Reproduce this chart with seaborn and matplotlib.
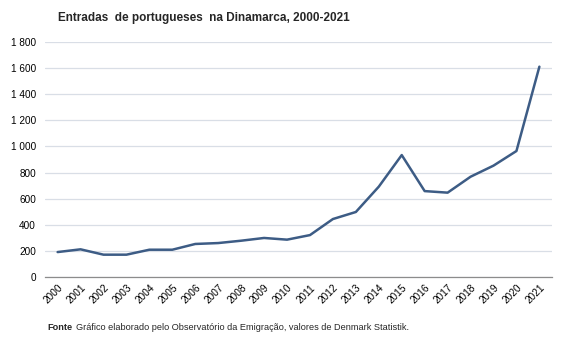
import matplotlib
matplotlib.use("Agg")
import matplotlib.pyplot as plt
import seaborn as sns
import pandas as pd
from matplotlib.ticker import FuncFormatter

years = [str(y) for y in range(2000, 2022)]
entradas = [191, 212, 171, 171, 209, 209, 253, 260, 278, 299, 286, 321,
            444, 498, 692, 934, 658, 646, 768, 853, 965, 1611]
y_ticks = [0, 200, 400, 600, 800, 1000, 1200, 1400, 1600, 1800]

title = "Entradas  de portugueses  na Dinamarca, 2000-2021"
fonte_bold = "Fonte"
fonte_text = "Gráfico elaborado pelo Observatório da Emigração, valores de Denmark Statistik."

sns.set_theme(style="white")
plt.rcParams['font.family'] = ['Liberation Sans', 'DejaVu Sans']

df = pd.DataFrame({"ano": years, "entradas": entradas})
df["pos"] = range(len(years))

fig = plt.figure(figsize=(5.67, 3.4), dpi=100)
ax = fig.add_axes([45/567, 1 - 277/340, (552-45)/567, (277-42)/340])

sns.lineplot(data=df, x="pos", y="entradas", ax=ax, color="#3D5C85", linewidth=1.8)

ax.set_xlim(-0.55, len(years) - 0.45)
ax.set_ylim(0, 1800)
ax.set_yticks(y_ticks)
ax.yaxis.set_major_formatter(FuncFormatter(lambda v, p: f"{int(v):,}".replace(",", " ")))
ax.set_xticks(df["pos"])
ax.set_xticklabels(years, rotation=45, ha="right", rotation_mode="anchor")
ax.tick_params(axis="x", labelsize=7.2, length=0, pad=4, colors="#000000")
ax.tick_params(axis="y", labelsize=7.2, length=0, pad=6.5, colors="#000000")
ax.grid(axis="y", color="#D9DEE6", linewidth=0.9)
ax.set_axisbelow(True)
for s in ["top", "right", "left"]:
    ax.spines[s].set_visible(False)
ax.spines["bottom"].set_color("#8C8C8C")
ax.spines["bottom"].set_linewidth(0.9)
ax.set_xlabel("")
ax.set_ylabel("")

fig.text(58/567, 1 - 18/340, title, fontsize=8.5, fontweight="bold", va="center", ha="left")
fig.text(47/567, 1 - 327/340, fonte_bold, fontsize=6.6, fontweight="bold", va="center", ha="left")
fig.text(76/567, 1 - 327/340, fonte_text, fontsize=6.6, va="center", ha="left")

fig.savefig("out.png", dpi=100)
